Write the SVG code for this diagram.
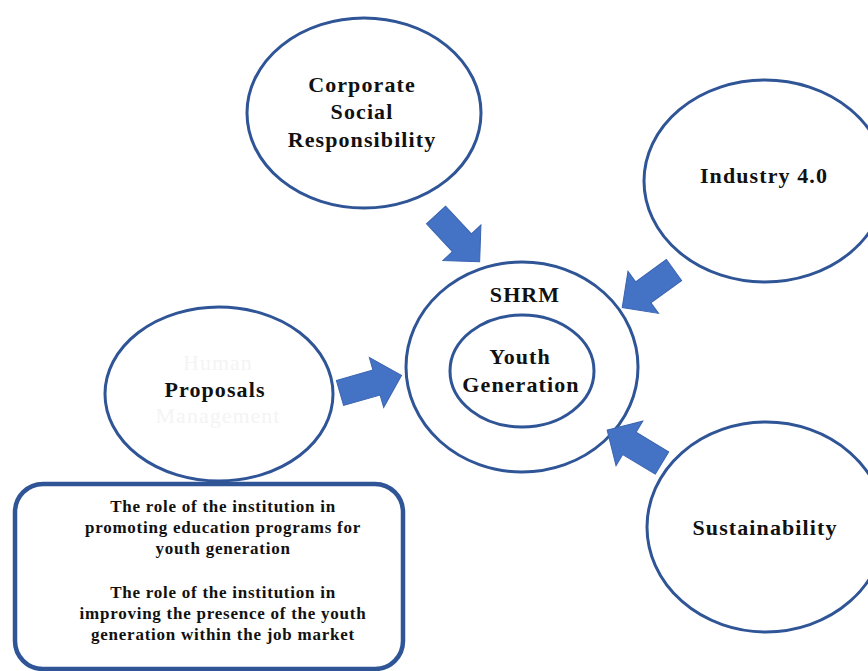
<svg xmlns="http://www.w3.org/2000/svg" width="868" height="671" viewBox="0 0 868 671">
  <style>
    .node { fill: #ffffff; stroke: #2f5597; stroke-width: 3; }
    .label { font-family: "Liberation Serif", "Times New Roman", serif; font-weight: bold; font-size: 22px; letter-spacing: 1.1px; fill: #111111; text-anchor: middle; }
    .ghost { font-family: "Liberation Serif", "Times New Roman", serif; font-size: 22px; letter-spacing: 1px; fill: #f4f4f4; text-anchor: middle; }
    .note { font-family: "Liberation Serif", "Times New Roman", serif; font-weight: bold; font-size: 17px; letter-spacing: 0.75px; fill: #111111; text-anchor: middle; }
    .arrow { fill: #4472c4; stroke: #3b64b0; stroke-width: 1; }
  </style>
  <defs>
    <polygon id="blockArrow" points="0,-13 38,-13 38,-26 64,0 38,26 38,13 0,13"/>
  </defs>
  <rect width="868" height="671" fill="#ffffff"/>

  <g id="csr">
    <ellipse class="node" cx="364" cy="113" rx="117" ry="95"/>
    <text class="label" x="362" y="92">Corporate</text>
    <text class="label" x="362" y="119">Social</text>
    <text class="label" x="362" y="147">Responsibility</text>
  </g>

  <g id="industry">
    <ellipse class="node" cx="765" cy="181" rx="121" ry="101"/>
    <text class="label" x="764" y="183">Industry 4.0</text>
  </g>

  <g id="sustainability">
    <ellipse class="node" cx="766" cy="527" rx="119" ry="105"/>
    <text class="label" x="765" y="535">Sustainability</text>
  </g>

  <g id="proposals">
    <ellipse class="node" cx="219" cy="394" rx="114" ry="87"/>
    <text class="ghost" x="218" y="370">Human</text>
    <text class="ghost" x="218" y="423">Management</text>
    <text class="label" x="215" y="397">Proposals</text>
  </g>

  <g id="shrm">
    <ellipse class="node" cx="522" cy="367" rx="116" ry="105"/>
    <text class="label" x="525" y="302">SHRM</text>
  </g>

  <g id="youth">
    <ellipse class="node" cx="522" cy="371" rx="72" ry="56"/>
    <text class="label" x="520" y="364">Youth</text>
    <text class="label" x="521" y="392">Generation</text>
  </g>

  <g id="roles">
    <rect x="15" y="484" width="388" height="185" rx="28" fill="#ffffff" stroke="#2f5597" stroke-width="4.5"/>
    <text class="note" x="223" y="512">The role of the institution in</text>
    <text class="note" x="223" y="533">promoting education programs for</text>
    <text class="note" x="223" y="554">youth generation</text>
    <text class="note" x="223" y="598">The role of the institution in</text>
    <text class="note" x="223" y="619">improving the presence of the youth</text>
    <text class="note" x="223" y="640">generation within the job market</text>
  </g>

  <g id="connectors">
    <use href="#blockArrow" class="arrow" transform="translate(436,215) rotate(47)"/>
    <use href="#blockArrow" class="arrow" transform="translate(340,393) rotate(-16)"/>
    <use href="#blockArrow" class="arrow" transform="translate(674,270) rotate(144)"/>
    <use href="#blockArrow" class="arrow" transform="translate(662,463) rotate(211)"/>
  </g>
</svg>
